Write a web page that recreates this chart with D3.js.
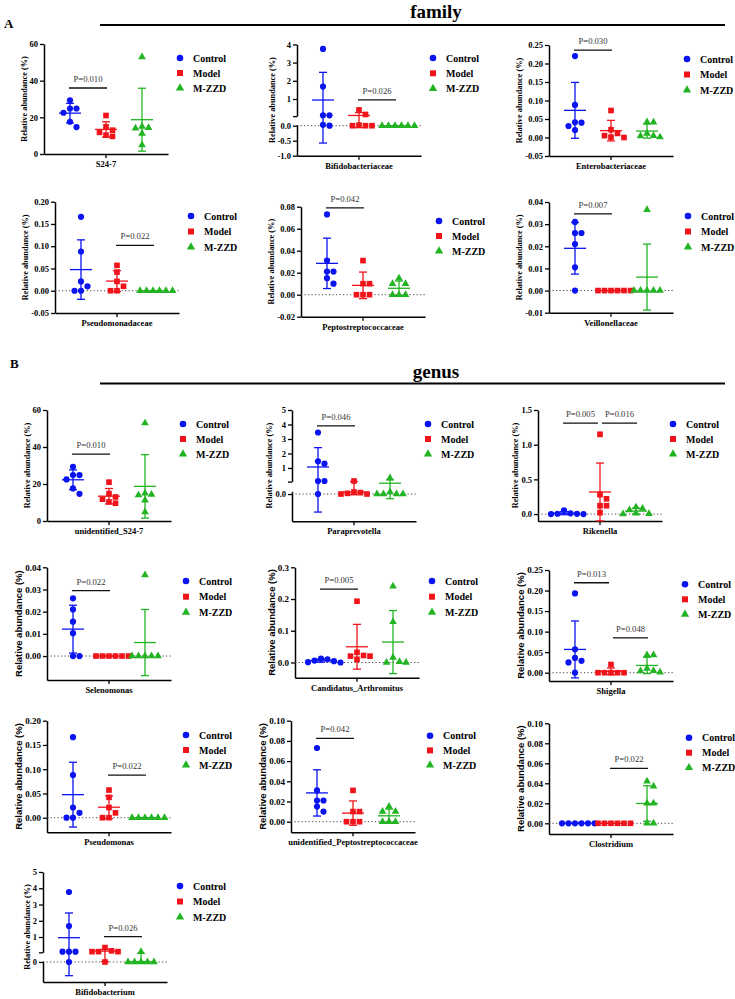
<!DOCTYPE html>
<html>
<head>
<meta charset="utf-8">
<script src="https://cdn.jsdelivr.net/npm/d3@7"></script>
<style>
  body { margin: 0; background: #fff; }
</style>
</head>
<body>
<div id="wrapper"></div>
<script>
// ---- data ----
var groups = ["Control", "Model", "M-ZZD"];
var sections = ["family", "genus"];
var sectionLetters = ["A", "B"];
var taxa = ["S24-7", "Bifidobacteriaceae", "Enterobacteriaceae",
    "Pseudomonadaceae", "Peptostreptococcaceae", "Veillonellaceae",
    "unidentified_S24-7", "Paraprevotella", "Rikenella",
    "Selenomonas", "Candidatus_Arthromitus", "Shigella",
    "Pseudomonas", "unidentified_Peptostreptococcaceae", "Clostridium",
    "Bifidobacterium"];

var controlValues = [
    [29.3, 24.8, 24.8, 22.5, 17.6, 14.7],
    [3.75, 1.68, 0.1, 0.1, 0.03, 0],
    [0.22, 0.088, 0.041, 0.04, 0.031, 0.02],
    [0.166, 0.088, 0.021, 0.01, 0, 0],
    [0.073, 0.031, 0.021, 0.021, 0.015, 0.01],
    [0.031, 0.026, 0.026, 0.021, 0.0105, 0],
    [29.3, 24.8, 24.8, 22.5, 17.6, 14.7],
    [3.45, 1.46, 1.3, 0.1, 0.1, 0],
    [0.055, 0.01, 0.005, 0.003, 0, 0],
    [0.026, 0.021, 0.0155, 0.0103, 0, 0],
    [0.012, 0.01, 0.006, 0.004, 0.001, 0],
    [0.193, 0.057, 0.036, 0.029, 0.025, 0],
    [0.166, 0.088, 0.021, 0.01, 0, 0],
    [0.073, 0.031, 0.021, 0.021, 0.015, 0.01],
    [0, 0, 0, 0, 0, 0],
    [3.77, 1.68, 0.1, 0.1, 0.1, 0]
];
var modelValues = [
    [21, 14.8, 13, 11.8, 10.3, 9.6],
    [0.4, 0.15, 0.02, 0, 0, 0],
    [0.073, 0.021, 0.011, 0.005, 0.001, 0],
    [0.057, 0.042, 0.021, 0.01, 0, 0],
    [0.031, 0.01, 0.01, 0, 0, 0],
    [0, 0, 0, 0, 0, 0],
    [21, 14.8, 13, 11.8, 10.3, 9.6],
    [0.1, 0.03, 0.02, 0.01, 0, 0],
    [1.15, 0.28, 0.22, 0.12, 0.12, 0.02],
    [0, 0, 0, 0, 0, 0],
    [0.193, 0.032, 0.022, 0.02, 0.02, 0.01],
    [0.02, 0, 0, 0, 0, 0],
    [0.057, 0.042, 0.021, 0.01, 0, 0],
    [0.031, 0.01, 0.01, 0, 0, 0],
    [0, 0, 0, 0, 0, 0],
    [0.35, 0.15, 0.1, 0.1, 0.1, 0]
];
var mzzdValues = [
    [52.9, 15, 14.3, 14, 11.2, 4.9],
    [0, 0, 0, 0, 0, 0],
    [0.042, 0.041, 0.011, 0.005, 0.004, 0.001],
    [0, 0, 0, 0, 0, 0],
    [0.015, 0.01, 0.01, 0, 0, 0],
    [0.0365, 0, 0, 0, 0, 0],
    [52.9, 15, 14.3, 14, 11.2, 4.9],
    [0.31, 0.03, 0, 0, 0, 0],
    [0.1, 0.08, 0.06, 0.01, 0.005, 0],
    [0.0365, 0, 0, 0, 0, 0],
    [0.24, 0.128, 0.016, 0.002, 0, 0],
    [0.043, 0.043, 0.01, 0.005, 0.004, 0.001],
    [0, 0, 0, 0, 0, 0],
    [0.015, 0.01, 0.01, 0, 0, 0],
    [0.042, 0.037, 0.02, 0.02, 0, 0],
    [0.1, 0, 0, 0, 0, 0]
];

// compared group pairs and their p-values
var pairs = [
    [[0, 1]], [[1, 2]], [[0, 1]], [[1, 2]], [[0, 1]], [[0, 1]],
    [[0, 1]], [[0, 1]], [[0, 1], [1, 2]],
    [[0, 1]], [[0, 1]], [[0, 1], [1, 2]],
    [[1, 2]], [[0, 1]], [[1, 2]], [[1, 2]]
];
var pTexts = [
    ["P=0.010"], ["P=0.026"], ["P=0.030"], ["P=0.022"], ["P=0.042"], ["P=0.007"],
    ["P=0.010"], ["P=0.046"], ["P=0.005", "P=0.016"],
    ["P=0.022"], ["P=0.005"], ["P=0.013", "P=0.048"],
    ["P=0.022"], ["P=0.042"], ["P=0.022"], ["P=0.026"]
];

var yTickValues = [
    [0, 20, 40, 60],
    [-1, -0.5, 0, 0.06, 1, 2, 3, 4],
    [-0.05, 0, 0.05, 0.1, 0.15, 0.2, 0.25],
    [-0.05, 0, 0.05, 0.1, 0.15, 0.2],
    [-0.02, 0, 0.02, 0.04, 0.06, 0.08],
    [-0.01, 0, 0.01, 0.02, 0.03, 0.04],
    [0, 20, 40, 60],
    [0, 0.06, 1, 2, 3, 4, 5],
    [0, 0.5, 1, 1.5],
    [0, 0.01, 0.02, 0.03, 0.04],
    [0, 0.1, 0.2, 0.3],
    [0, 0.05, 0.1, 0.15, 0.2, 0.25],
    [0, 0.05, 0.1, 0.15, 0.2],
    [0, 0.02, 0.04, 0.06, 0.08, 0.1],
    [0, 0.02, 0.04, 0.06, 0.08, 0.1],
    [0, 0.06, 1, 2, 3, 4, 5]
];
var yTickLabels = [
    ["0", "20", "40", "60"],
    ["-1.0", "-0.5", "0.0", "", "1", "2", "3", "4"],
    ["-0.05", "0.00", "0.05", "0.10", "0.15", "0.20", "0.25"],
    ["-0.05", "0.00", "0.05", "0.10", "0.15", "0.20"],
    ["-0.02", "0.00", "0.02", "0.04", "0.06", "0.08"],
    ["-0.01", "0.00", "0.01", "0.02", "0.03", "0.04"],
    ["0", "20", "40", "60"],
    ["0.0", "", "1", "2", "3", "4", "5"],
    ["0.0", "0.5", "1.0", "1.5"],
    ["0.00", "0.01", "0.02", "0.03", "0.04"],
    ["0.0", "0.1", "0.2", "0.3"],
    ["0.00", "0.05", "0.10", "0.15", "0.20", "0.25"],
    ["0.00", "0.05", "0.10", "0.15", "0.20"],
    ["0.00", "0.02", "0.04", "0.06", "0.08", "0.10"],
    ["0.00", "0.02", "0.04", "0.06", "0.08", "0.10"],
    ["0", "", "1", "2", "3", "4", "5"]
];

// ---- layout of each small panel (pixels) ----
// domain with 4 values = broken axis [low, breakLow, breakHigh, high]
var layout = [
    {ax: 44,  domain: [0, 60], range: [154, 44], zero: false, leg: [180, 58, 15], sig: [36]},
    {ax: 297, domain: [-1, 0.04, 0.06, 4], range: [155.7, 124.5, 116.1, 44.4], zero: true, leg: [433, 58, 15.3], sig: [0.95]},
    {ax: 549, domain: [-0.05, 0.25], range: [156, 45], zero: false, leg: [687, 59, 15.5], sig: [0.236]},
    {ax: 55,  domain: [-0.05, 0.2], range: [313, 201.7], zero: true, leg: [191, 216, 15.5], sig: [0.102]},
    {ax: 301, domain: [-0.02, 0.08], range: [316.7, 206.7], zero: true, leg: [439, 221, 15], sig: [0.079]},
    {ax: 549, domain: [-0.01, 0.04], range: [312.7, 202], zero: true, leg: [688, 216, 15.5], sig: [0.0346]},
    {ax: 47,  domain: [0, 60], range: [521, 410], zero: false, leg: [183, 424, 15], sig: [36.2]},
    {ax: 292, domain: [-0.4, 0.04, 0.06, 5], range: [521.2, 491.3, 481.6, 410], zero: true, leg: [428, 424, 15], sig: [3.9]},
    {ax: 538, domain: [-0.1, 1.5], range: [521, 410], zero: true, leg: [673, 424, 15], sig: [1.31, 1.31]},
    {ax: 47,  domain: [-0.0108, 0.04], range: [680, 567.3], zero: true, leg: [186, 581, 15.7], sig: [0.0295], big: true},
    {ax: 295, domain: [-0.048, 0.3], range: [677.7, 567.3], zero: true, leg: [432, 581, 15.7], sig: [0.231], big: true},
    {ax: 549, domain: [-0.0202, 0.25], range: [681, 570], zero: true, leg: [685, 584.3, 15], sig: [0.219, 0.085], big: true},
    {ax: 47,  domain: [-0.0301, 0.2], range: [832.3, 720.7], zero: true, leg: [186, 735, 15], sig: [0.0876], big: true},
    {ax: 291, domain: [-0.0105, 0.1], range: [832.3, 720.7], zero: true, leg: [430, 735.7, 14.7], sig: [0.0825], big: true},
    {ax: 549, domain: [-0.0107, 0.1], range: [834, 723.3], zero: true, leg: [689, 737.7, 15], sig: [0.055], big: true},
    {ax: 43,  domain: [-0.82, 0.04, 0.06, 5], range: [982, 961, 952.3, 872], zero: true, leg: [180, 886, 15.5], sig: [1.02]}
];
var headers = [
    {letterX: 4, letterY: 28, titleY: 18, lineY: 25},
    {letterX: 10, letterY: 368, titleY: 378, lineY: 383.5}
];

var serif = "'Liberation Serif','Times New Roman',serif";
var sans = "'Liberation Sans',Arial,sans-serif";
var colors = ["#0a14f0", "#f0141a", "#22b422"];
var symbols = [d3.symbolCircle, d3.symbolSquare, d3.symbolTriangle];
var symbolSizes = [30, 32, 26];
var axisLen = 124;
var step = 6.5, minDist = 6;

var svg = d3.select("#wrapper").append("svg")
    .attr("width", 735)
    .attr("height", 999)
    .style("font-family", serif);

// section headers
sections.forEach(function (s, i) {
    var h = headers[i];
    svg.append("text").attr("x", h.letterX).attr("y", h.letterY)
        .attr("font-size", 13).attr("font-weight", "bold").text(sectionLetters[i]);
    svg.append("text").attr("x", 436).attr("y", h.titleY)
        .attr("text-anchor", "middle").attr("font-size", 19).attr("font-weight", "bold").text(s);
    svg.append("line").attr("x1", 100).attr("x2", 725).attr("y1", h.lineY).attr("y2", h.lineY)
        .attr("stroke", "#000").attr("stroke-width", 2);
});

taxa.forEach(function (name, i) {
    var L = layout[i];
    var g = svg.append("g");
    var big = !!L.big;
    var tickFont = big ? 9 : 8.5;
    var yScale = d3.scaleLinear().domain(L.domain).range(L.range);
    var xScale = d3.scaleBand().domain(groups)
        .range([L.ax, L.ax + axisLen])
        .paddingInner(0).paddingOuter(0.222);
    var center = function (k) { return xScale(groups[k]) + xScale.bandwidth() / 2; };

    // y axis (one or two segments)
    var yAxisG = g.append("g").attr("transform", "translate(" + L.ax + ",0)");
    var segs = L.domain.length === 4 ? [[0, 1], [2, 3]] : [[0, 1]];
    segs.forEach(function (sg) {
        var lo = L.domain[sg[0]], hi = L.domain[sg[1]];
        var s = d3.scaleLinear().domain([lo, hi]).range([L.range[sg[0]], L.range[sg[1]]]);
        var vals = yTickValues[i].filter(function (v) { return v >= lo - 1e-9 && v <= hi + 1e-9; });
        yAxisG.append("g").call(d3.axisLeft(s)
            .tickValues(vals)
            .tickFormat(function (v) { return yTickLabels[i][yTickValues[i].indexOf(v)]; })
            .tickSize(4).tickSizeOuter(0).tickPadding(2));
    });
    yAxisG.selectAll(".domain").attr("stroke", "#000").attr("stroke-width", 1.5);
    yAxisG.selectAll(".tick line").attr("stroke", "#000").attr("stroke-width", 1.3);
    yAxisG.selectAll("text").attr("font-family", serif).attr("font-weight", "bold")
        .attr("font-size", tickFont).attr("fill", "#000");

    // x axis with one tick under the middle group
    var xAxisG = g.append("g").attr("transform", "translate(0," + L.range[0] + ")")
        .call(d3.axisBottom(xScale).tickValues(["Model"])
            .tickFormat(function () { return name; })
            .tickSize(4).tickSizeOuter(0).tickPadding(3));
    xAxisG.select(".domain").attr("stroke", "#000").attr("stroke-width", 1.5);
    xAxisG.selectAll(".tick line").attr("stroke", "#000").attr("stroke-width", 1.3);
    xAxisG.selectAll("text").attr("font-family", serif).attr("font-weight", "bold")
        .attr("font-size", 8.5).attr("fill", "#000");

    // y label placed left of the tick labels
    var bb = yAxisG.node().getBBox();
    var yMid = (L.range[0] + L.range[L.range.length - 1]) / 2;
    var lx = L.ax + bb.x - 3;
    g.append("text")
        .attr("transform", "translate(" + lx + "," + yMid + ") rotate(-90)")
        .attr("text-anchor", "middle")
        .attr("font-family", big ? sans : serif)
        .attr("font-weight", "bold")
        .attr("font-size", big ? 9.5 : 8.3)
        .text("Relative abundance (%)");

    // dotted zero line
    if (L.zero) {
        g.append("line")
            .attr("x1", L.ax).attr("x2", L.ax + axisLen)
            .attr("y1", yScale(0)).attr("y2", yScale(0))
            .attr("stroke", "#444").attr("stroke-width", 1)
            .attr("stroke-dasharray", "1.2,2.3");
    }

    var series = [controlValues[i], modelValues[i], mzzdValues[i]];
    series.forEach(function (vals, k) {
        var cx = center(k);
        var mean = d3.mean(vals);
        var sd = d3.deviation(vals);

        // mean line + SD bar
        var eg = g.append("g").attr("stroke", colors[k]).attr("stroke-width", 1.3);
        eg.append("line").attr("x1", cx).attr("x2", cx)
            .attr("y1", yScale(mean - sd)).attr("y2", yScale(mean + sd));
        [mean - sd, mean + sd].forEach(function (v) {
            eg.append("line").attr("x1", cx - 4).attr("x2", cx + 4)
                .attr("y1", yScale(v)).attr("y2", yScale(v));
        });
        eg.append("line").attr("x1", cx - 11).attr("x2", cx + 11)
            .attr("y1", yScale(mean)).attr("y2", yScale(mean));

        // scatter points, spread sideways when they would overlap
        var placed = [];
        vals.slice().sort(function (a, b) { return b - a; }).forEach(function (v) {
            var py = yScale(v);
            var off = 0;
            for (var n = 0; n < 30; n++) {
                var cand = n === 0 ? 0 : (n % 2 ? 1 : -1) * Math.ceil(n / 2) * step;
                var ok = placed.every(function (p) { return Math.hypot(p[0] - cand, p[1] - py) >= minDist; });
                if (ok) { off = cand; break; }
            }
            placed.push([off, py]);
        });
        g.selectAll(null).data(placed).enter().append("path")
            .attr("d", d3.symbol(symbols[k], symbolSizes[k])())
            .attr("transform", function (p) { return "translate(" + (cx + p[0]) + "," + p[1] + ")"; })
            .attr("fill", colors[k]);
    });

    // significance bars
    pairs[i].forEach(function (pr, j) {
        var a = pr[0], b = pr[1];
        var startsShared = pairs[i].some(function (q) { return q[1] === a; });
        var endsShared = pairs[i].some(function (q) { return q[0] === b; });
        var x1 = center(a) - 1 + (startsShared ? 3 : 0);
        var x2 = center(b) + 1 - (endsShared ? 3 : 0);
        var ly = yScale(L.sig[j]);
        g.append("line").attr("x1", x1).attr("x2", x2).attr("y1", ly).attr("y2", ly)
            .attr("stroke", "#111").attr("stroke-width", 1.3);
        g.append("text").attr("x", (x1 + x2) / 2).attr("y", ly - 6)
            .attr("text-anchor", "middle").attr("font-size", 8.6).attr("fill", "#333")
            .text(pTexts[i][j]);
    });

    // legend
    groups.forEach(function (gn, k) {
        var ly = L.leg[1] + k * L.leg[2];
        g.append("path").attr("d", d3.symbol(symbols[k], symbolSizes[k] + 4)())
            .attr("transform", "translate(" + L.leg[0] + "," + ly + ")")
            .attr("fill", colors[k]);
        g.append("text").attr("x", L.leg[0] + 13).attr("y", ly + 3.5)
            .attr("font-size", 10).attr("font-weight", "bold").text(gn);
    });
});
</script>
</body>
</html>
